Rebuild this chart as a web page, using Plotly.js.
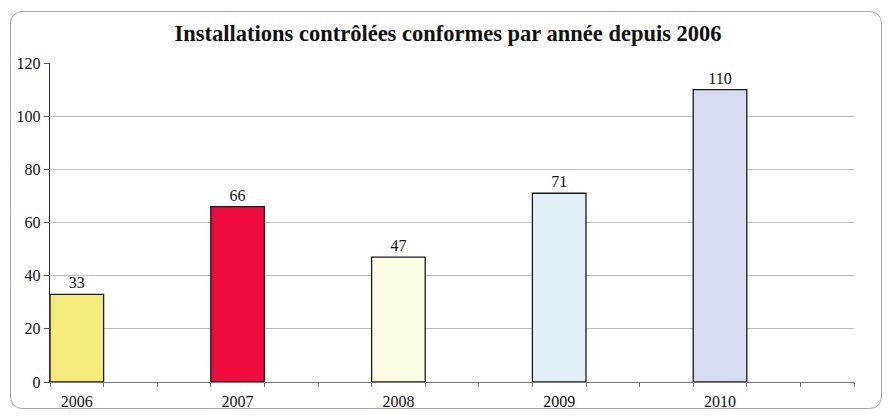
<!DOCTYPE html>
<html><head><meta charset="utf-8">
<script src="https://cdn.plot.ly/plotly-3.0.1.min.js"></script>
<style>
html,body{margin:0;padding:0;background:#fff;}
#wrap{position:relative;width:889px;height:416px;}
#frame{position:absolute;left:10px;top:11px;width:872px;height:398px;border:1.5px solid #a8a8a8;border-radius:12px;box-sizing:border-box;pointer-events:none;}
#chart{position:absolute;left:0;top:0;width:889px;height:416px;}
</style>
</head><body>
<div id="wrap"><div id="chart"></div><div id="frame"></div></div>
<script>
const years = ['2006','2007','2008','2009','2010'];
const values = [33, 66, 47, 71, 110];
const colors = ['#F4EC7C','#EE0B3D','#FCFBE3','#E2F0F8','#D8DCF0'];
const slotsPerYear = 3;
const yTicks = [0,20,40,60,80,100,120];

const xs = years.map((y,i)=>i*slotsPerYear);
const nSlots = years.length*slotsPerYear;
const bounds = [];
for(let k=0;k<=nSlots;k++) bounds.push(k-0.5);

const serif = 'Liberation Serif, Times New Roman, serif';

const trace = {
  type:'bar', x: xs, y: values,
  marker:{color: colors, line:{color:'#1a1a1a', width:1.3}},
  text: values.map(String), textposition:'outside',
  textfont:{family:serif, size:16, color:'#111'},
  cliponaxis:false, width:1, hoverinfo:'none'
};
const dummy = {type:'scatter', x:[bounds[0]], y:[0], xaxis:'x2', mode:'markers', marker:{opacity:0}, hoverinfo:'none', showlegend:false};

const layout = {
  width:889, height:416,
  margin:{l:50, r:35, t:63, b:34},
  paper_bgcolor:'rgba(0,0,0,0)', plot_bgcolor:'#fff',
  showlegend:false, bargap:0,
  title:{text:'<b>Installations contrôlées conformes par année depuis 2006</b>', font:{family:serif, size:22.5, color:'#111'}, x:0.504, xanchor:'center', y:0.92, yanchor:'middle'},
  xaxis:{range:[bounds[0], bounds[bounds.length-1]], tickvals: xs, ticktext: years, ticks:'', ticklabelstandoff:5, showgrid:false, zeroline:false,
    showline:true, linecolor:'#777', linewidth:1, tickfont:{family:serif, size:16, color:'#111'}, fixedrange:true},
  xaxis2:{overlaying:'x', range:[bounds[0], bounds[bounds.length-1]], tickvals: bounds, showticklabels:false, ticks:'outside', ticklen:4, tickcolor:'#777', showgrid:false, zeroline:false, showline:false},
  yaxis:{range:[0,120], tickvals:yTicks, ticks:'outside', ticklen:5, tickcolor:'#555', showgrid:true, gridcolor:'#bdbdbd', gridwidth:1, zeroline:false,
    showline:true, linecolor:'#333', linewidth:1.2, tickfont:{family:serif, size:16, color:'#111'}, fixedrange:true}
};
Plotly.newPlot('chart', [trace, dummy], layout, {displayModeBar:false, staticPlot:true});
</script>
</body></html>
